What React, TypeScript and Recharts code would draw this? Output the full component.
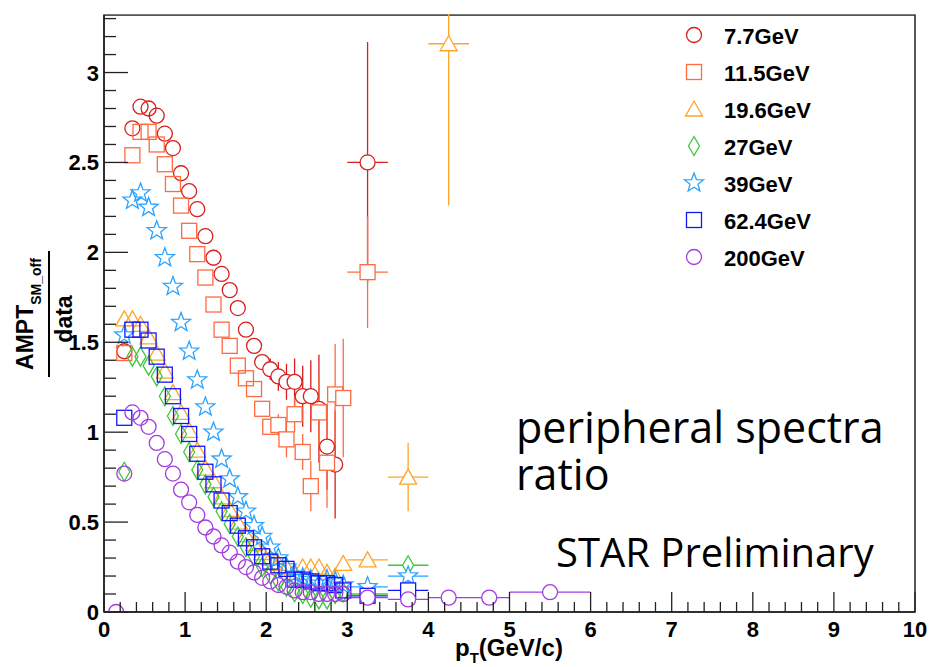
import React from "react";
import { ScatterChart, Scatter, XAxis, YAxis, ErrorBar, ReferenceArea, Legend } from "recharts";

// [pT, ratio, x-error, y-error]
type Pt = [number, number, number?, number?];

const energies = ["7.7GeV", "11.5GeV", "19.6GeV", "27GeV", "39GeV", "62.4GeV", "200GeV"];
const colors = ["#d81e1e", "#ff6a40", "#ffa424", "#3cc83c", "#2aa2ff", "#1414ff", "#a23ce0"];
const markers = ["circle", "square", "triangle", "diamond", "star", "square", "circle"];

const pts77: Pt[] = [
  [0.25, 1.45], [0.35, 2.69], [0.45, 2.81], [0.55, 2.8], [0.65, 2.76], [0.75, 2.66], [0.85, 2.58],
  [0.95, 2.44], [1.05, 2.34], [1.15, 2.24], [1.25, 2.09], [1.35, 1.97], [1.45, 1.88], [1.55, 1.79],
  [1.65, 1.69], [1.75, 1.57], [1.85, 1.48], [1.95, 1.39, 0, 0.04], [2.05, 1.35, 0, 0.06],
  [2.15, 1.31, 0, 0.08], [2.25, 1.28, 0, 0.1], [2.35, 1.28, 0, 0.13], [2.45, 1.2, 0, 0.17],
  [2.55, 1.2, 0, 0.2], [2.65, 1.13, 0, 0.3], [2.75, 0.92, 0, 0.24], [2.85, 0.82, 0, 0.3],
  [3.25, 2.5, 0.25, 0.67],
];

const pts115: Pt[] = [
  [0.25, 1.44], [0.35, 2.54], [0.45, 2.67], [0.55, 2.67], [0.65, 2.6], [0.75, 2.49], [0.85, 2.38],
  [0.95, 2.26], [1.05, 2.12], [1.15, 1.99], [1.25, 1.86], [1.35, 1.71], [1.45, 1.57], [1.55, 1.48],
  [1.65, 1.37], [1.75, 1.3], [1.85, 1.24], [1.95, 1.13], [2.05, 1.03, 0, 0.04], [2.15, 1.04, 0, 0.06],
  [2.25, 0.96, 0, 0.1], [2.35, 1.1, 0, 0.1], [2.45, 0.89, 0, 0.1], [2.55, 0.7, 0, 0.14],
  [2.65, 1.11, 0, 0.2], [2.75, 0.83, 0, 0.25], [2.85, 1.21, 0, 0.28], [2.95, 1.19, 0, 0.33],
  [3.25, 1.89, 0.25, 0.31],
];

const pts196: Pt[] = [
  [0.25, 1.63], [0.35, 1.63], [0.45, 1.6], [0.55, 1.53], [0.65, 1.44], [0.75, 1.34], [0.85, 1.22],
  [0.95, 1.11], [1.05, 1.01], [1.15, 0.9], [1.25, 0.8], [1.35, 0.73], [1.45, 0.64], [1.55, 0.57],
  [1.65, 0.5], [1.75, 0.43], [1.85, 0.38], [1.95, 0.33], [2.05, 0.3], [2.15, 0.27], [2.25, 0.25],
  [2.35, 0.22], [2.45, 0.25], [2.55, 0.25], [2.65, 0.25], [2.75, 0.22], [2.85, 0.2], [2.95, 0.27],
  [3.25, 0.29, 0.25], [3.75, 0.75, 0.25, 0.19], [4.25, 3.16, 0.25, 0.9],
];

const pts27: Pt[] = [
  [0.25, 0.78], [0.35, 1.42], [0.45, 1.42], [0.55, 1.37], [0.65, 1.31], [0.75, 1.2], [0.85, 1.09],
  [0.95, 0.99], [1.05, 0.89], [1.15, 0.79], [1.25, 0.71], [1.35, 0.64], [1.45, 0.56], [1.55, 0.49],
  [1.65, 0.42], [1.75, 0.36], [1.85, 0.31], [1.95, 0.25], [2.05, 0.21], [2.15, 0.17], [2.25, 0.14],
  [2.35, 0.11], [2.45, 0.1], [2.55, 0.08], [2.65, 0.07], [2.75, 0.07], [2.85, 0.1], [2.95, 0.11],
  [3.25, 0.1, 0.25], [3.75, 0.26, 0.25, 0.05],
];

const pts39: Pt[] = [
  [0.25, 1.54], [0.35, 2.29], [0.45, 2.33], [0.55, 2.25], [0.65, 2.12], [0.75, 1.97], [0.85, 1.81],
  [0.95, 1.61], [1.05, 1.45], [1.15, 1.29], [1.25, 1.14], [1.35, 1.0], [1.45, 0.85], [1.55, 0.74],
  [1.65, 0.64], [1.75, 0.56], [1.85, 0.48], [1.95, 0.42], [2.05, 0.36], [2.15, 0.3], [2.25, 0.25],
  [2.35, 0.21], [2.45, 0.19], [2.55, 0.18], [2.65, 0.16], [2.75, 0.18], [2.85, 0.17], [2.95, 0.15],
  [3.25, 0.14, 0.25], [3.75, 0.2, 0.25, 0.04],
];

const pts624: Pt[] = [
  [0.25, 1.08], [0.35, 1.57], [0.45, 1.57], [0.55, 1.51], [0.65, 1.42], [0.75, 1.32], [0.85, 1.2],
  [0.95, 1.09], [1.05, 0.99], [1.15, 0.88], [1.25, 0.78], [1.35, 0.71], [1.45, 0.62], [1.55, 0.55],
  [1.65, 0.48], [1.75, 0.41], [1.85, 0.36], [1.95, 0.31], [2.05, 0.28], [2.15, 0.26], [2.25, 0.24],
  [2.35, 0.18], [2.45, 0.18], [2.55, 0.17], [2.65, 0.16], [2.75, 0.16], [2.85, 0.15], [2.95, 0.12],
  [3.25, 0.09, 0.25], [3.75, 0.12, 0.25],
];

const pts200: Pt[] = [
  [0.15, 0.0], [0.25, 0.77], [0.35, 1.11], [0.45, 1.08], [0.55, 1.03], [0.65, 0.94], [0.75, 0.85],
  [0.85, 0.77], [0.95, 0.68], [1.05, 0.61], [1.15, 0.54], [1.25, 0.47], [1.35, 0.42], [1.45, 0.37],
  [1.55, 0.33], [1.65, 0.28], [1.75, 0.25], [1.85, 0.22], [1.95, 0.19], [2.05, 0.17], [2.15, 0.15],
  [2.25, 0.14], [2.35, 0.12], [2.45, 0.11], [2.55, 0.11], [2.65, 0.1], [2.75, 0.1], [2.85, 0.1],
  [2.95, 0.1], [3.25, 0.08, 0.25], [3.75, 0.07, 0.25], [4.25, 0.08, 0.25], [4.75, 0.08, 0.25],
  [5.5, 0.11, 0.5],
];

const seriesPts = [pts77, pts115, pts196, pts27, pts39, pts624, pts200];

const xMajor = [0, 1, 2, 3, 4, 5, 6, 7, 8, 9, 10];
const yMajor = [0, 0.5, 1, 1.5, 2, 2.5, 3];
const xTicks = Array.from({ length: 51 }, (_, i) => (i * 2) / 10);
const yTicks = Array.from({ length: 34 }, (_, i) => i / 10);

const boldFont = "'Liberation Sans', Arial, Helvetica, sans-serif";
const axisColor = "#222";

function Marker({ kind, cx, cy, color, fill = "none" }: any) {
  const common = { stroke: color, strokeWidth: 1.3, fill };
  if (kind === "circle") return <circle cx={cx} cy={cy} r={7.5} {...common} />;
  if (kind === "square") return <rect x={cx - 7.5} y={cy - 7.5} width={15} height={15} {...common} />;
  if (kind === "triangle")
    return <polygon points={`${cx},${cy - 8} ${cx + 8.5},${cy + 7} ${cx - 8.5},${cy + 7}`} {...common} />;
  if (kind === "diamond")
    return <polygon points={`${cx},${cy - 9.5} ${cx + 5.5},${cy} ${cx},${cy + 9.5} ${cx - 5.5},${cy}`} {...common} />;
  // open five-pointed star
  const pts = [];
  for (let i = 0; i < 10; i++) {
    const a = -Math.PI / 2 + (i * Math.PI) / 5;
    const r = i % 2 === 0 ? 10 : 4.2;
    pts.push(`${(cx + r * Math.cos(a)).toFixed(2)},${(cy + r * Math.sin(a)).toFixed(2)}`);
  }
  return <polygon points={pts.join(" ")} {...common} />;
}

const XTick = (props: any) => {
  const { x, y, payload } = props;
  const v = Math.round(payload.value * 10) / 10;
  const major = xMajor.includes(v);
  return (
    <g>
      <line x1={x} x2={x} y1={y} y2={y - (major ? 20 : 10)} stroke={axisColor} strokeWidth={1.3} />
      {major && (
        <text x={x} y={y + 25} textAnchor="middle" fontSize={22} fontWeight="bold" fontFamily={boldFont} fill="#000">
          {v}
        </text>
      )}
    </g>
  );
};

const YTick = (props: any) => {
  const { x, y, payload } = props;
  const v = Math.round(payload.value * 10) / 10;
  const major = yMajor.includes(v);
  return (
    <g>
      <line x1={x} x2={x + (major ? 24 : 12)} y1={y} y2={y} stroke={axisColor} strokeWidth={1.3} />
      {major && (
        <text x={x - 5} y={y + 8} textAnchor="end" fontSize={22} fontWeight="bold" fontFamily={boldFont} fill="#000">
          {v}
        </text>
      )}
    </g>
  );
};

const XTitle = () => (
  <text x={455} y={656} fontSize={24} fontWeight="bold" fontFamily={boldFont} fill="#000">
    p<tspan dy={7} fontSize={15}>T</tspan>
    <tspan dy={-7}>(GeV/c)</tspan>
  </text>
);

const YTitle = () => (
  <g fontFamily={boldFont} fontWeight="bold" fill="#000">
    <text x={33} y={314} transform="rotate(-90 33 314)" textAnchor="middle" fontSize={23}>
      AMPT<tspan dy={8} fontSize={14}>SM_off</tspan>
    </text>
    <line x1={49} x2={49} y1={251} y2={377} stroke="#000" strokeWidth={2} />
    <text x={72} y={319} transform="rotate(-90 72 319)" textAnchor="middle" fontSize={23}>
      data
    </text>
  </g>
);

const LegendBox = () => (
  <svg width={200} height={270}>
    {energies.map((name, i) => (
      <g key={name}>
        <Marker kind={markers[i]} cx={34} cy={20 + i * 37} color={colors[i]} />
        <text x={64} y={29 + i * 37} fontSize={22} fontWeight="bold" fontFamily={boldFont} fill="#000">
          {name}
        </text>
      </g>
    ))}
  </svg>
);

export default function App() {
  return (
    <div style={{ position: "absolute", left: 0, top: 0, width: 937, height: 667, background: "#fff" }}>
      <ScatterChart width={937} height={667} margin={{ top: 15, right: 22, bottom: 0, left: 0 }}>
        <XAxis
          type="number"
          dataKey="x"
          domain={[0, 10]}
          ticks={xTicks}
          interval={0}
          tickSize={0}
          tickMargin={0}
          tickLine={false}
          tick={<XTick />}
          axisLine={{ stroke: axisColor, strokeWidth: 1.5 }}
          height={55}
          allowDataOverflow
          label={{ content: XTitle }}
        />
        <YAxis
          type="number"
          dataKey="y"
          domain={[0, 3.32]}
          ticks={yTicks}
          interval={0}
          tickSize={0}
          tickMargin={0}
          tickLine={false}
          tick={<YTick />}
          axisLine={{ stroke: axisColor, strokeWidth: 1.5 }}
          width={104}
          allowDataOverflow
          label={{ content: YTitle }}
        />
        <ReferenceArea x1={0} x2={10} y1={0} y2={3.32} fill="none" stroke={axisColor} strokeWidth={1.5} ifOverflow="visible" />
        {seriesPts.map((pts, i) => (
          <Scatter
            key={energies[i]}
            name={energies[i]}
            data={pts.map(([x, y, ex, ey]) => ({ x, y, ex, ey }))}
            fill={colors[i]}
            isAnimationActive={false}
            shape={(p: any) => (
              <Marker
                kind={markers[i]}
                cx={p.cx}
                cy={p.cy}
                color={colors[i]}
                fill={p.payload && (p.payload.ex || p.payload.ey) ? "#fff" : "none"}
              />
            )}
          >
            <ErrorBar dataKey="ey" direction="y" width={0} stroke={colors[i]} strokeWidth={1.3} />
            <ErrorBar dataKey="ex" direction="x" width={0} stroke={colors[i]} strokeWidth={1.3} />
          </Scatter>
        ))}
        <Legend
          layout="vertical"
          align="center"
          verticalAlign="middle"
          content={LegendBox}
          wrapperStyle={{ left: 660, top: 15, width: 200, height: 270 }}
        />
      </ScatterChart>
      <svg width={937} height={667} style={{ position: "absolute", left: 0, top: 0, pointerEvents: "none" }}>
        {/* error bars running past the top of the frame are cut off, as in the original */}
        <rect x={100} y={0} width={820} height={14.2} fill="#fff" />
        <g fontFamily="'Open Sans', 'Noto Sans', sans-serif" fill="#000">
          <text x={516} y={443} fontSize={43}>peripheral spectra</text>
          <text x={516} y={490} fontSize={43}>ratio</text>
          <text x={556} y={567} fontSize={40}>STAR Preliminary</text>
        </g>
      </svg>
    </div>
  );
}
